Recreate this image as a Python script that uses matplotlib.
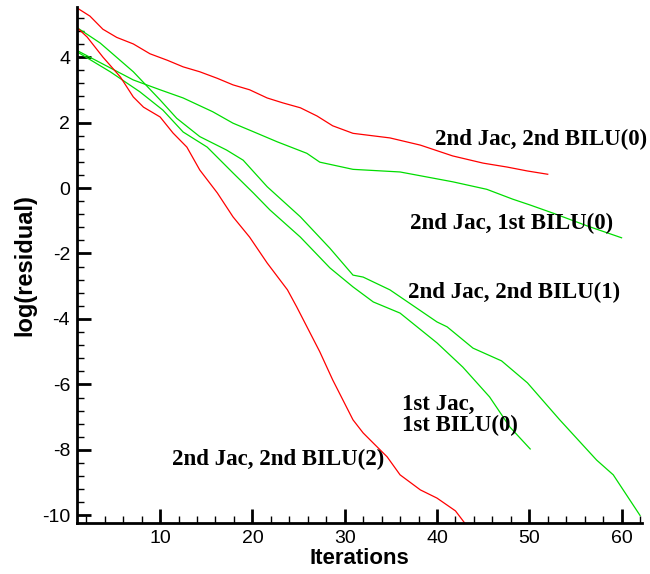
import matplotlib
matplotlib.use("Agg")
import matplotlib.pyplot as plt
from matplotlib.ticker import MultipleLocator

# 2nd Jac, 2nd BILU(0)  (red, upper)
x_j2_b0 = [1, 2.4, 3.8, 5.3, 7.1, 8.9, 10.8, 12.5, 14.3, 16.2, 17.9, 19.7, 21.6, 23.3, 25.2,
           27.0, 28.7, 30.9, 34.9, 38.2, 41.7, 45.0, 47.6, 49.8, 52.0]
y_j2_b0 = [5.5, 5.25, 4.85, 4.6, 4.4, 4.1, 3.9, 3.7, 3.55, 3.35, 3.15, 3.0, 2.75, 2.6, 2.45,
           2.2, 1.9, 1.67, 1.53, 1.31, 0.98, 0.76, 0.64, 0.52, 0.42]

# 2nd Jac, 1st BILU(0)  (green, upper)
x_j2_b10 = [1, 7.1, 10.0, 12.5, 15.7, 17.9, 20.1, 22.7, 25.9, 27.3, 30.9, 36.0, 41.7, 45.4,
            48.2, 50.1, 52.6, 56.3, 60.0]
y_j2_b10 = [4.2, 3.3, 3.0, 2.75, 2.33, 1.98, 1.72, 1.41, 1.06, 0.79, 0.57, 0.49, 0.19, -0.04,
            -0.34, -0.52, -0.77, -1.16, -1.52]

# 2nd Jac, 2nd BILU(1)  (green)
x_j2_b1 = [1, 3.5, 7.1, 10.0, 11.8, 14.3, 17.2, 19.0, 21.6, 25.2, 28.4, 30.9, 32.0, 34.9,
           40.0, 41.1, 43.9, 47.0, 49.8, 53.3, 57.3, 59.1, 62.0]
y_j2_b1 = [4.9, 4.43, 3.55, 2.69, 2.13, 1.57, 1.16, 0.85, 0.04, -0.88, -1.84, -2.66, -2.72,
           -3.11, -4.09, -4.24, -4.89, -5.28, -5.95, -7.08, -8.31, -8.76, -10.0]

# 1st Jac, 1st BILU(0)  (green)
x_j1_b0 = [1, 4.6, 7.8, 10.3, 12.5, 15.1, 17.9, 20.1, 21.9, 25.2, 28.4, 30.9, 33.1, 36.0,
           40.0, 42.8, 45.7, 47.9, 50.1]
y_j1_b0 = [4.16, 3.55, 2.94, 2.38, 1.71, 1.25, 0.46, -0.15, -0.67, -1.5, -2.44, -3.02, -3.48,
           -3.82, -4.73, -5.47, -6.38, -7.30, -7.97]

# 2nd Jac, 2nd BILU(2)  (red, lower)
x_j2_b2 = [1, 2.1, 3.8, 5.7, 7.1, 8.2, 10.0, 11.4, 12.9, 14.3, 16.2, 17.9, 19.7, 21.6, 23.8,
           24.8, 27.3, 28.7, 30.9, 32.0, 33.1, 34.6, 36.0, 38.2, 40.0, 42.0, 43.0]
y_j2_b2 = [4.9, 4.61, 4.0, 3.39, 2.78, 2.47, 2.17, 1.68, 1.25, 0.55, -0.15, -0.88, -1.5, -2.29,
           -3.11, -3.63, -5.0, -5.86, -7.08, -7.48, -7.79, -8.21, -8.76, -9.22, -9.47, -9.86, -10.23]

red = "#ff0000"
green = "#00dd00"

plt.rcParams["font.family"] = ["Liberation Sans", "DejaVu Sans"]
plt.rcParams["axes.unicode_minus"] = False

fig = plt.figure(figsize=(6.5, 5.74), dpi=100)
ax = fig.add_axes([0.1185, 0.0889, 0.869, 0.899])

ax.plot(x_j2_b0, y_j2_b0, color=red, lw=0.9)
ax.plot(x_j2_b10, y_j2_b10, color=green, lw=0.9)
ax.plot(x_j2_b1, y_j2_b1, color=green, lw=0.9)
ax.plot(x_j1_b0, y_j1_b0, color=green, lw=0.9)
ax.plot(x_j2_b2, y_j2_b2, color=red, lw=0.9)

ax.set_xlim(1, 62.2)
ax.set_ylim(-10.23, 5.53)

for s in ["top", "right"]:
    ax.spines[s].set_visible(False)
for s in ["left", "bottom"]:
    ax.spines[s].set_linewidth(2)

ax.xaxis.set_major_locator(MultipleLocator(10))
ax.xaxis.set_minor_locator(MultipleLocator(2))
ax.yaxis.set_major_locator(MultipleLocator(2))
ax.yaxis.set_minor_locator(MultipleLocator(0.4))
ax.tick_params(which="major", direction="in", length=10, width=2, labelsize=14, pad=5)
ax.tick_params(which="minor", direction="in", length=5, width=1)

ax.set_xlabel("Iterations", fontsize=16, fontweight="bold", labelpad=1)
ax.set_ylabel("log(residual)", fontsize=17, fontweight="bold", labelpad=4)

tfont = dict(family="Liberation Serif", fontsize=16.5, fontweight="bold", va="center")
ax.text(39.8, 1.47, "2nd Jac, 2nd BILU(0)", **tfont)
ax.text(37.1, -1.07, "2nd Jac, 1st BILU(0)", **tfont)
ax.text(36.9, -3.2, "2nd Jac, 2nd BILU(1)", **tfont)
ax.text(36.2, -6.93, "1st Jac,\n1st BILU(0)", linespacing=1.0, **tfont)
ax.text(11.3, -8.3, "2nd Jac, 2nd BILU(2)", **tfont)

fig.savefig("out.png", dpi=100)
